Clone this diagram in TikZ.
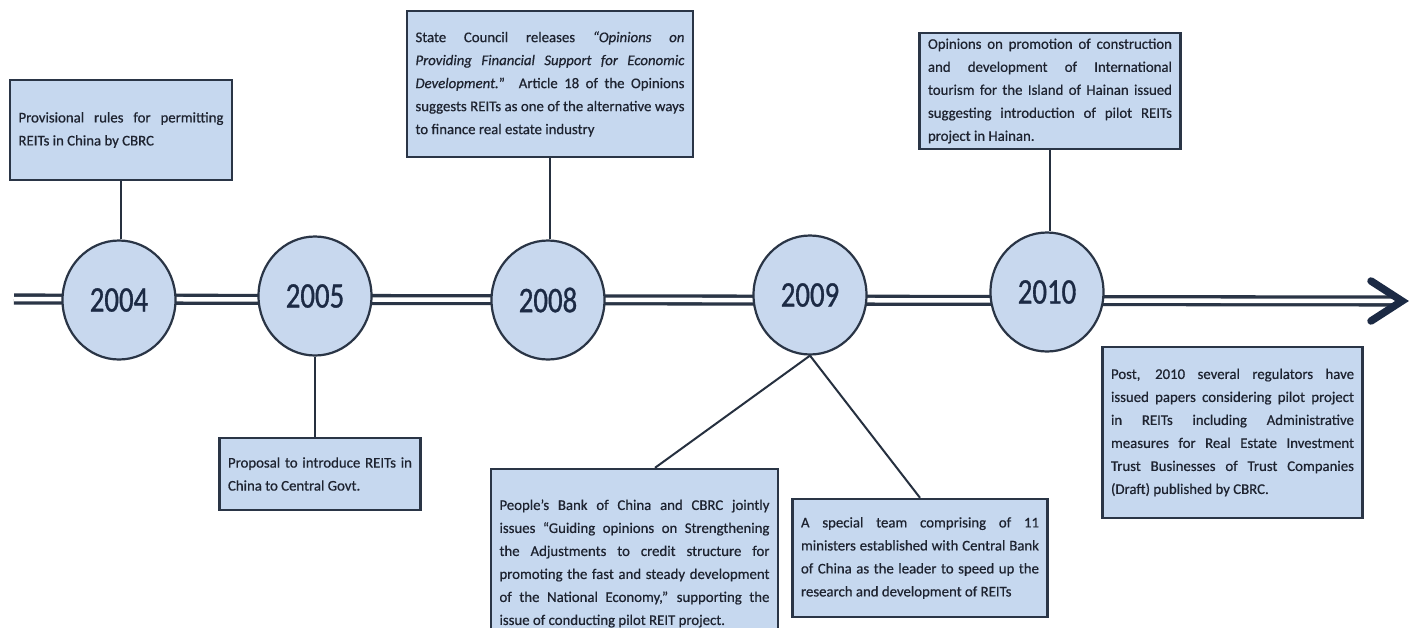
\documentclass[tikz,border=0pt]{standalone}
\usepackage{fontspec}
\setmainfont{Carlito}[FakeBold=0.6]
\newfontfamily\yearfont{Carlito}[FakeStretch=0.8,FakeBold=0.9]
\usetikzlibrary{shapes.geometric,calc}
\definecolor{boxfill}{HTML}{C6D8EF}
\definecolor{circfill}{HTML}{C8D8EE}
\definecolor{edgecol}{HTML}{2A3546}
\definecolor{ink}{HTML}{1E2330}
\definecolor{navy}{HTML}{1C2A44}
\hyphenpenalty=10000
\exhyphenpenalty=10000
\tolerance=10000
\hbadness=10000
\hfuzz=20pt
\tikzset{
  textbox/.style={draw=edgecol, line width=2.4pt, fill=boxfill, inner xsep=8.5pt, inner ysep=0pt,
    align=justify, text=ink, font=\fontsize{14.8pt}{23pt}\selectfont},
  yearnode/.style={shape=ellipse, draw=edgecol, line width=2.2pt, fill=circfill,
    minimum width=113pt, minimum height=119pt, inner sep=0pt, text=navy,
    font=\yearfont\fontsize{36pt}{36pt}\selectfont},
  link/.style={draw=edgecol!90!black, line width=2pt},
  timeline/.style={draw=edgecol, line width=3.3pt, double=white, double distance=4.5pt},
  arrowhd/.style={draw=navy, line width=7.5pt, line cap=round, line join=miter}
}
\begin{document}
\begin{tikzpicture}[x=1pt,y=-1pt]
\useasboundingbox (0,0) rectangle (1409,627);
\fill[white] (0,0) rectangle (1409,627);
\clip (0,0) rectangle (1409,627);

% timeline
\coordinate (start) at (14,299);
\coordinate (tip) at (1397,301);
\draw[timeline] (start) -- (tip);
\draw[arrowhd] ($(tip)+(-26,-20)$) -- ($(tip)+(5,0)$) -- ($(tip)+(-26,20)$);

% year circles
\node[yearnode] (c2004) at (119,300) {2004};
\node[yearnode] (c2005) at (315,296) {2005};
\node[yearnode] (c2008) at (548,300) {2008};
\node[yearnode] (c2009) at (810,295) {2009};
\node[yearnode] (c2010) at (1047,292) {2010};

% text boxes
\node[textbox, minimum width=222pt, minimum height=100pt, text width=205pt] (b2004) at (121,130)
 {Provisional rules for permitting\linebreak REITs in China by CBRC};

\node[textbox, minimum width=200pt, minimum height=72pt, text width=184pt] (b2005) at (320,474)
 {Proposal to introduce REITs in\linebreak China to Central Govt.};

\node[textbox, minimum width=286pt, minimum height=146pt, text width=269pt] (b2008) at (550,84)
 {State Council releases \emph{\textquotedblleft Opinions on\linebreak Providing Financial Support for Economic\linebreak Development.}\textquotedblright{} Article 18 of the Opinions\linebreak suggests REITs as one of the alternative ways\linebreak to finance real estate industry};

\node[textbox, minimum width=260pt, minimum height=116pt, text width=244pt] (b2010) at (1050,91)
 {Opinions on promotion of construction\linebreak and development of International\linebreak tourism for the Island of Hainan issued\linebreak suggesting introduction of pilot REITs\linebreak project in Hainan.};

\node[textbox, minimum width=285pt, minimum height=189pt, text width=270pt] (b2009a) at (634.5,563.5)
 {People's Bank of China and CBRC jointly\linebreak issues \textquotedblleft Guiding opinions on Strengthening\linebreak the Adjustments to credit structure for\linebreak promoting the fast and steady development\linebreak of the National Economy,\textquotedblright{} supporting the\linebreak issue of conducting pilot REIT project.};

\node[textbox, minimum width=254pt, minimum height=118pt, text width=238pt] (b2009b) at (920,558)
 {A special team comprising of 11\linebreak ministers established with Central Bank\linebreak of China as the leader to speed up the\linebreak research and development of REITs};

\node[textbox, minimum width=259pt, minimum height=171pt, text width=243pt] (bpost) at (1232.5,432.5)
 {Post, 2010 several regulators have\linebreak issued papers considering pilot project\linebreak in REITs including Administrative\linebreak measures for Real Estate Investment\linebreak Trust Businesses of Trust Companies\linebreak (Draft) published by CBRC.};

% connectors
\draw[link] (b2004.south) -- (b2004.south |- c2004.north);
\draw[link] (c2005.south) -- (c2005.south |- b2005.north);
\draw[link] (b2008.south) -- (b2008.south |- c2008.north);
\draw[link] (b2010.south) -- (b2010.south |- c2010.north);
\draw[link] (c2009.south) -- ([xshift=20.5pt]b2009a.north);
\draw[link] (c2009.south) -- (b2009b.north);
\end{tikzpicture}
\end{document}
